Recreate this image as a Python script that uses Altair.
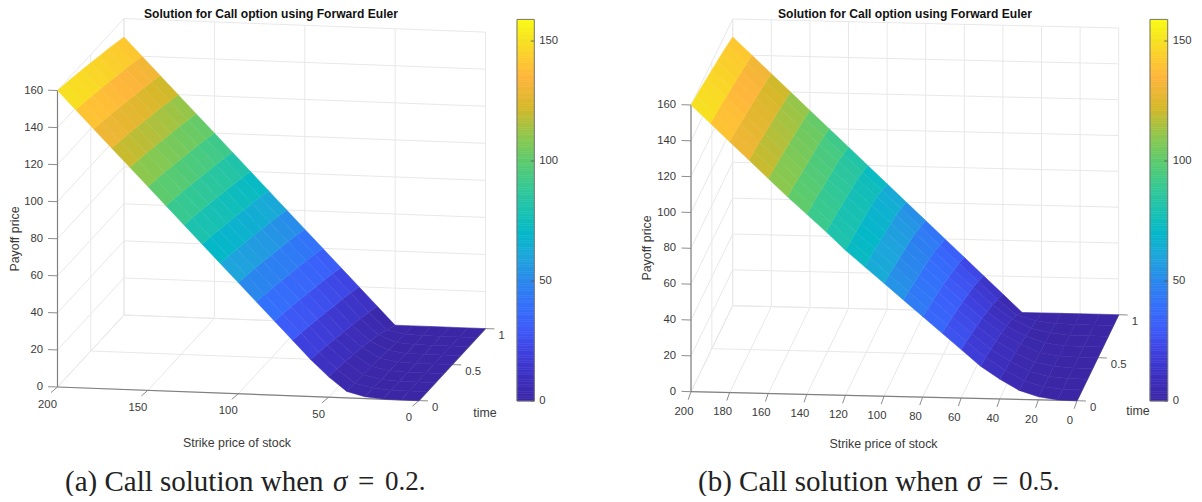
import altair as alt
import pandas as pd

# ---------- values ----------
S_GRID = [0, 10, 20, 30, 40, 50, 60, 70, 80, 90, 100, 110, 120, 130, 140, 150, 160, 170, 180, 190, 200]
T_GRID = [0, 0.125, 0.25, 0.375, 0.5, 0.625, 0.75, 0.875, 1]

SURF_A = [
    [0, 0, 0.1, 1, 3.5, 11, 20, 30, 40, 50, 60, 70, 80, 90, 100, 110, 120, 130, 140, 150, 160],
    [0, 0, 0, 0.8, 3.1, 10.2, 19, 29, 39, 49, 59, 69, 79, 89, 99, 109, 119, 129, 139, 149, 159],
    [0, 0, 0, 0.6, 2.8, 9.5, 18, 28, 38, 48, 58, 68, 78, 88, 98, 108, 118, 128, 138, 148, 158],
    [0, 0, 0, 0.4, 2.4, 8.5, 16.8, 26.8, 36.8, 46.8, 56.8, 66.8, 76.8, 86.8, 96.8, 106.8, 116.8, 126.8, 136.8, 146.8, 156.8],
    [0, 0, 0, 0.3, 2, 7.5, 15.5, 25.5, 35.5, 45.5, 55.5, 65.5, 75.5, 85.5, 95.5, 105.5, 115.5, 125.5, 135.5, 145.5, 155.5],
    [0, 0, 0, 0.1, 1.4, 6, 14.2, 24.2, 34.2, 44.2, 54.2, 64.2, 74.2, 84.2, 94.2, 104.2, 114.2, 124.2, 134.2, 144.2, 154.2],
    [0, 0, 0, 0, 0.8, 4.5, 13, 23, 33, 43, 53, 63, 73, 83, 93, 103, 113, 123, 133, 143, 153],
    [0, 0, 0, 0, 0.3, 2.3, 11.5, 21.5, 31.5, 41.5, 51.5, 61.5, 71.5, 81.5, 91.5, 101.5, 111.5, 121.5, 131.5, 141.5, 151.5],
    [0, 0, 0, 0, 0, 0, 10, 20, 30, 40, 50, 60, 70, 80, 90, 100, 110, 120, 130, 140, 150],
]
SURF_B = [
    [0, 0.2, 1.7, 5, 11, 18, 27, 36, 45, 54, 63, 72, 81, 91, 100.5, 110, 120, 130, 140, 150, 160],
    [0, 0.15, 1.3, 4.2, 10, 16.8, 25.5, 34.5, 43.5, 52.5, 61.8, 71, 80, 90, 99.5, 109, 119, 129, 139, 149, 159],
    [0, 0.1, 1, 3.5, 9, 15.5, 24, 33, 42, 51, 60.5, 70, 79, 89, 98.5, 108, 118, 128, 138, 148, 158],
    [0, 0.05, 0.7, 2.7, 7.7, 14, 22.2, 31.2, 40.5, 49.7, 59.2, 68.7, 78, 87.7, 97.2, 106.7, 116.7, 126.7, 136.7, 146.7, 156.7],
    [0, 0, 0.5, 2, 6.5, 12.5, 20.5, 29.5, 39, 48.5, 58, 67.5, 77, 86.5, 96, 105.5, 115.5, 125.5, 135.5, 145.5, 155.5],
    [0, 0, 0.2, 1.4, 4.9, 10.4, 18.2, 27.5, 37, 46.7, 56.5, 66.2, 76, 85.5, 95, 104.5, 114.2, 124.2, 134.2, 144.2, 154.2],
    [0, 0, 0, 1, 3.5, 8.5, 16, 25.5, 35, 45, 55, 65, 75, 84.5, 94, 103.5, 113, 123, 133, 143, 153],
    [0, 0, 0, 0.4, 1.6, 4.5, 13, 22.7, 32.5, 42.5, 52.5, 62.5, 72.5, 82.2, 92, 101.7, 111.5, 121.5, 131.5, 141.5, 151.5],
    [0, 0, 0, 0, 0, 0, 10, 20, 30, 40, 50, 60, 70, 80, 90, 100, 110, 120, 130, 140, 150],
]

S_TICKS_A = [0, 50, 100, 150, 200]
S_TICKS_B = [0, 20, 40, 60, 80, 100, 120, 140, 160, 180, 200]
T_TICKS = [0, 0.5, 1]
T_TICK_LABELS = ["0", "0.5", "1"]
V_TICKS = [0, 20, 40, 60, 80, 100, 120, 140, 160]
CBAR_TICKS = [0, 50, 100, 150]
CBAR_MAX = 159

COLOR_STOPS = [0, 10, 20, 30, 40, 50, 60, 70, 80, 90, 100, 110, 122, 135, 142, 150, 159]
COLOR_VALUES = ["#3B27A6", "#3D2FBE", "#3E40DE", "#3D5BF8", "#3370FB", "#2A87EC", "#1EA5DC",
                "#05B8C8", "#1CC2AE", "#38C990", "#5DCB6D", "#8CC84E", "#D4B82A", "#FFB63C",
                "#FDC82F", "#F7E021", "#F9FB15"]

TITLE = "Solution for Call option using Forward Euler"
X_TITLE = "Strike price of stock"
Y_TITLE = "Payoff price"
T_TITLE = "time"

# ---------- layout (page pixels) ----------
W, H = 1186, 488
PANELS = [
    dict(surf=SURF_A, sticks=S_TICKS_A, o=(57.5, 387.0), a=(1.8075, 0.068), b=(66.5, -72.0), z=1.853,
         slab=(-10, 17.5), stick=(-6.5, 5.5), title=(271, 14), xt=(237, 443), yt=(15, 239), tt=(485, 413),
         bar=(517, 534.3), cap=(65, 333, 358, 385), zlab=43),
    dict(surf=SURF_B, sticks=S_TICKS_B, o=(691.0, 391.7), a=(1.93, 0.045), b=(41.7, -86.0), z=1.792,
         slab=(-7, 19.8), stick=(-2.8, 8), title=(905, 14), xt=(883.5, 444), yt=(647, 248), tt=(1138, 410.7),
         bar=(1150, 1167.7), cap=(698, 967, 992, 1019), zlab=676),
]
CAPTIONS = [("(a) Call solution when", "0.2."), ("(b) Call solution when", "0.5.")]
CBAR_Y0, CBAR_PER_UNIT = 401.0, 2.4


def proj(p, s, t, v):
    dx = 200 - s
    return (p["o"][0] + dx * p["a"][0] + t * p["b"][0],
            p["o"][1] + dx * p["a"][1] + t * p["b"][1] - v * p["z"])


features, grid, axes, ticks, labels_tick = [], [], [], [], []
bar_rows, bar_frames, bar_ticks = [], [], []
titles, ax_titles, y_titles, caps, cap_nums, sigmas = [], [], [], [], [], []


def seg(lst, a, b):
    lst.append(dict(x=a[0], y=a[1], x2=b[0], y2=b[1]))


for i, p in enumerate(PANELS):
    # walls and floor grid
    for v in V_TICKS:
        seg(grid, proj(p, 200, 0, v), proj(p, 200, 1, v))
        seg(grid, proj(p, 200, 1, v), proj(p, 0, 1, v))
    for s in p["sticks"]:
        seg(grid, proj(p, s, 0, 0), proj(p, s, 1, 0))
        seg(grid, proj(p, s, 1, 0), proj(p, s, 1, 160))
    for t in T_TICKS:
        seg(grid, proj(p, 200, t, 0), proj(p, 0, t, 0))
        seg(grid, proj(p, 200, t, 0), proj(p, 200, t, 160))
    # axes
    seg(axes, proj(p, 200, 0, 0), proj(p, 0, 0, 0))
    seg(axes, proj(p, 200, 0, 0), proj(p, 200, 0, 160))
    seg(axes, proj(p, 0, 0, 0), proj(p, 0, 1, 0))
    for v in V_TICKS:
        x, y = proj(p, 200, 0, v)
        seg(ticks, (x, y), (x - 9.5, y - 0.3))
        labels_tick.append(dict(x=p["zlab"], y=y, label=str(v), align="right"))
    for s in p["sticks"]:
        x, y = proj(p, s, 0, 0)
        seg(ticks, (x, y), (x + p["stick"][0], y + p["stick"][1]))
        labels_tick.append(dict(x=x + p["slab"][0], y=y + p["slab"][1], label=str(s), align="center"))
    for t, lab in zip(T_TICKS, T_TICK_LABELS):
        x, y = proj(p, 0, t, 0)
        seg(ticks, (x, y), (x + 9, y + 0.3))
        labels_tick.append(dict(x=x + 13, y=y + 7.7, label=lab, align="left"))
    # surface
    for r in range(len(T_GRID) - 1):
        for c in range(len(S_GRID) - 1):
            corners = [(c, r), (c + 1, r), (c + 1, r + 1), (c, r + 1), (c, r)]
            ring = []
            for cc, rr in corners:
                px, py = proj(p, S_GRID[cc], T_GRID[rr], p["surf"][rr][cc])
                ring.append([px - 8, py - 8])
            features.append(dict(type="Feature", geometry=dict(type="Polygon", coordinates=[ring]),
                                 properties=dict(v=p["surf"][r][c])))
    # colour bar
    x0, x1 = p["bar"]
    for v in range(CBAR_MAX):
        bar_rows.append(dict(x=x0, x2=x1, y=CBAR_Y0 - v * CBAR_PER_UNIT, y2=CBAR_Y0 - (v + 1) * CBAR_PER_UNIT, v=v + 0.5))
    bar_frames.append(dict(x=x0, x2=x1, y=CBAR_Y0, y2=CBAR_Y0 - CBAR_MAX * CBAR_PER_UNIT))
    for v in CBAR_TICKS:
        y = CBAR_Y0 - v * CBAR_PER_UNIT
        seg(bar_ticks, (x1 - 3.5, y), (x1, y))
        labels_tick.append(dict(x=x1 + 5, y=y, label=str(v), align="left"))
    # text
    titles.append(dict(x=p["title"][0], y=p["title"][1], label=TITLE))
    ax_titles.append(dict(x=p["xt"][0], y=p["xt"][1], label=X_TITLE))
    ax_titles.append(dict(x=p["tt"][0], y=p["tt"][1], label=T_TITLE))
    y_titles.append(dict(x=p["yt"][0], y=p["yt"][1], label=Y_TITLE))
    c = p["cap"]
    caps.append(dict(x=c[0], y=482, label=CAPTIONS[i][0]))
    caps.append(dict(x=c[2], y=482, label="="))
    cap_nums.append(dict(x=c[3], y=482, label=CAPTIONS[i][1]))
    sigmas.append(dict(x=c[1], y=482, label="σ"))

X = alt.X("x:Q", scale=alt.Scale(domain=[8, 8 + W], range=[0, W]), axis=None)
Y = alt.Y("y:Q", scale=alt.Scale(domain=[8, 8 + H], range=[0, H]), axis=None)
color_scale = alt.Scale(domain=COLOR_STOPS, range=COLOR_VALUES, interpolate="rgb")


def rules(rows, color, width):
    return alt.Chart(pd.DataFrame(rows)).mark_rule(color=color, strokeWidth=width).encode(
        x=X, y=Y, x2="x2:Q", y2="y2:Q")


def text(rows, size, **kw):
    base = dict(fontSize=size, font="Liberation Sans", color="#3a3a3a", baseline="middle")
    base.update(kw)
    return alt.Chart(pd.DataFrame(rows)).mark_text(**base).encode(x=X, y=Y, text="label:N")


surface = alt.Chart(alt.Data(values=features)).mark_geoshape(strokeWidth=0.5).encode(
    color=alt.Color("properties.v:Q", scale=color_scale, legend=None),
    stroke=alt.Color("properties.v:Q", scale=color_scale, legend=None),
).project(type="identity", scale=1, translate=[0, 0])

bars = alt.Chart(pd.DataFrame(bar_rows)).mark_rect(strokeWidth=0.6).encode(
    x=X, y=Y, x2="x2:Q", y2="y2:Q",
    color=alt.Color("v:Q", scale=color_scale, legend=None),
    stroke=alt.Color("v:Q", scale=color_scale, legend=None))
frames = alt.Chart(pd.DataFrame(bar_frames)).mark_rect(fillOpacity=0, stroke="#777777", strokeWidth=1).encode(
    x=X, y=Y, x2="x2:Q", y2="y2:Q")

tick_rows = pd.DataFrame(labels_tick)
tick_layers = [text(tick_rows[tick_rows["align"] == al].to_dict("records"), 11.3, align=al)
               for al in ("left", "center", "right")]

chart = alt.layer(
    rules(grid, "#E8E8E8", 1),
    rules(axes, "#808080", 1.2),
    rules(ticks, "#808080", 0.9),
    surface,
    bars,
    frames,
    rules(bar_ticks, "#555555", 0.8),
    *tick_layers,
    text(titles, 12.1, fontWeight="bold", color="#111111", align="center"),
    text(ax_titles, 12.4, align="center"),
    text(y_titles, 12.4, align="center", angle=270),
    text(caps, 29, font="Liberation Serif", color="#222222", align="left"),
    text(cap_nums, 27, font="Liberation Serif", color="#222222", align="left"),
    text(sigmas, 29, font="Liberation Serif", fontStyle="italic", color="#222222", align="left"),
).properties(width=W, height=H, padding=0, background="white",
             autosize=alt.AutoSizeParams(type="none")
).configure_view(stroke=None)

chart.save("out.html", embed_options={"renderer": "svg", "actions": False})
